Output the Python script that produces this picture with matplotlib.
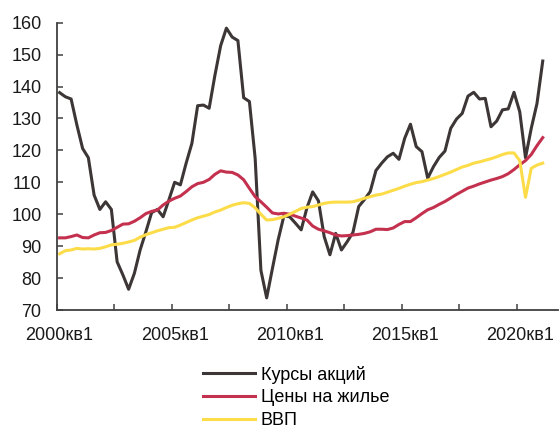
import matplotlib
matplotlib.use("Agg")
import matplotlib.pyplot as plt
import numpy as np

plt.rcParams['font.family'] = ['Liberation Sans', 'DejaVu Sans']

# квартальные данные, 2000кв1 - 2021кв1
akcii = [138.1, 136.8, 136.1, 128.0, 120.6, 117.7, 106.0, 101.5, 103.9, 101.5,
         85.1, 81.0, 76.5, 81.5, 88.8, 94.5, 100.5, 101.5, 99.2, 104.5,
         110.0, 109.2, 116.0, 122.2, 134.0, 134.2, 133.2, 143.5, 152.8, 158.3,
         155.5, 154.4, 136.5, 135.3, 117.5, 82.4, 73.8, 83.0, 92.0, 99.5,
         99.2, 97.2, 95.1, 102.0, 107.0, 104.2, 93.0, 87.3, 94.0, 88.8,
         91.4, 94.3, 102.4, 104.6, 107.1, 113.7, 116.0, 118.0, 119.1, 117.2,
         123.8, 128.2, 121.2, 119.6, 111.3, 114.9, 117.8, 119.8, 126.9, 129.8,
         131.6, 137.0, 138.2, 136.1, 136.3, 127.4, 129.2, 132.7, 133.0, 138.2,
         132.1, 117.7, 126.9, 134.7, 148.0]
zhile = [92.6, 92.6, 93.0, 93.5, 92.7, 92.6, 93.5, 94.2, 94.3, 94.9,
         95.9, 96.9, 97.0, 97.8, 98.9, 100.2, 100.9, 101.3, 102.9, 104.1,
         105.0, 105.7, 107.1, 108.6, 109.6, 110.0, 110.9, 112.5, 113.6, 113.2,
         113.1, 112.3, 110.8, 108.1, 105.5, 103.9, 102.2, 100.4, 100.1, 100.3,
         100.0, 99.4, 98.8, 98.2, 96.3, 95.3, 94.8, 94.2, 93.5, 93.2,
         93.3, 93.5, 93.7, 94.0, 94.5, 95.3, 95.3, 95.2, 95.7, 96.8,
         97.7, 97.7, 98.9, 100.2, 101.4, 102.1, 103.1, 104.0, 105.1, 106.2,
         107.2, 108.2, 108.8, 109.5, 110.1, 110.7, 111.2, 111.8, 112.7, 114.0,
         115.5, 116.8, 118.7, 121.5, 124.0]
vvp = [87.6, 88.6, 88.8, 89.3, 89.1, 89.2, 89.1, 89.3, 89.8, 90.4,
       90.6, 90.9, 91.3, 91.8, 92.8, 93.6, 94.2, 94.8, 95.3, 95.8,
       95.9, 96.6, 97.4, 98.2, 98.9, 99.4, 99.9, 100.7, 101.3, 102.1,
       102.8, 103.3, 103.6, 103.4, 102.0, 100.0, 98.2, 98.3, 98.7, 99.2,
       100.0, 100.9, 101.8, 102.2, 102.4, 102.9, 103.4, 103.7, 103.8, 103.8,
       103.8, 103.9, 104.4, 105.0, 105.5, 106.0, 106.3, 106.9, 107.5, 108.1,
       108.8, 109.4, 109.9, 110.2, 110.7, 111.2, 111.8, 112.5, 113.2, 114.0,
       114.8, 115.3, 116.0, 116.4, 116.9, 117.4, 118.0, 118.7, 119.2, 119.2,
       116.8, 105.3, 114.4, 115.4, 116.0]
podpisi = ['2000кв1', '2005кв1', '2010кв1', '2015кв1', '2020кв1']

x = np.arange(len(akcii))
osi_cvet = '#404040'

fig = plt.figure(figsize=(5.6, 4.26), dpi=100)
ax = fig.add_axes([0.1013, 0.2723, 0.8946, 0.6744])

ax.plot(x, akcii, color='#3d3636', lw=2.2, label='Курсы акций')
ax.plot(x, zhile, color='#c4314f', lw=2.2, label='Цены на жилье')
ax.plot(x, vvp, color='#fddc4a', lw=2.2, label='ВВП')

ax.set_ylim(70, 160)
ax.set_yticks(np.arange(70, 161, 10))
ax.set_xlim(-0.5, 86.6)
ax.set_xticks(np.arange(-0.5, 85, 10))
ax.set_xticklabels([])
ax.set_xticks(np.arange(0, 81, 20), minor=True)
ax.set_xticklabels(podpisi, minor=True)

for s in ['top', 'right']:
    ax.spines[s].set_visible(False)
for s in ['left', 'bottom']:
    ax.spines[s].set_color(osi_cvet)
    ax.spines[s].set_linewidth(1.3)

ax.tick_params(axis='both', which='major', direction='in', length=4, width=1.1,
               color=osi_cvet, labelsize=13, labelcolor='#1a1a1a')
ax.tick_params(axis='y', pad=11)
ax.tick_params(axis='x', which='minor', length=0, pad=12.5, labelsize=13,
               labelcolor='#1a1a1a')

fig.legend(loc='upper left', bbox_to_anchor=(0.362, 0.142), frameon=False,
           fontsize=13, handlelength=2.9, handletextpad=0.32, labelspacing=0.32,
           borderpad=0, borderaxespad=0)

fig.savefig('out.png', dpi=100)
